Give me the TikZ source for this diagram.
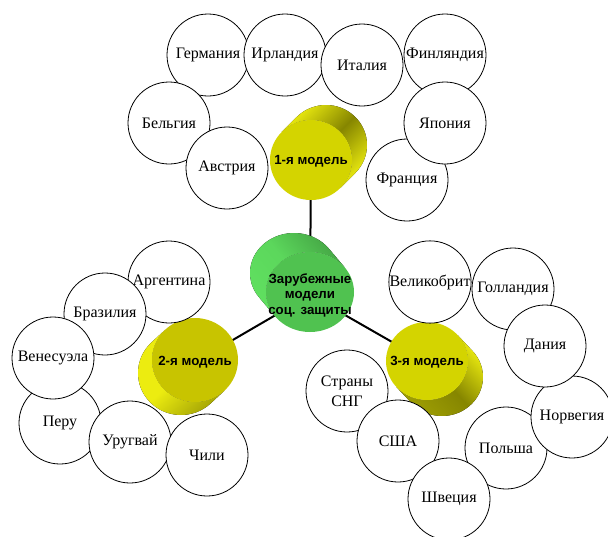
\documentclass[tikz,border=0pt]{standalone}
\usepackage{fontspec}
\setmainfont{Liberation Serif}
\setsansfont{Liberation Sans}
\usetikzlibrary{
    positioning,
    calc,
    backgrounds
}
\definecolor{drumface}{HTML}{D4D400}
\definecolor{drumfacedim}{HTML}{C8C400}
\definecolor{drumlight}{HTML}{ECEC10}
\definecolor{drumdark}{HTML}{868600}
\definecolor{hubface}{HTML}{50C250}
\definecolor{hublight}{HTML}{60E060}
\definecolor{hubdark}{HTML}{44A444}
\tikzset{
    % Country circle style
    country/.style={
        circle,
        draw=black,
        line width=0.8pt,
        fill=white,
        minimum size=82pt,
        inner sep=0pt,
        align=center,
        font=\fontsize{16}{20}\selectfont
    },
    % Model label style
    model text/.style={
        inner sep=0pt,
        align=center,
        font=\fontsize{13.3}{15.5}\selectfont\sffamily\bfseries
    },
    % Drum side shadings
    side one/.style={top color=drumlight, bottom color=drumlight, middle color=drumdark, shading angle=45},
    side hub/.style={top color=hublight, bottom color=hubdark, middle color=hublight!85!hubdark, shading angle=130},
    side two/.style={top color=drumdark!70!drumlight, bottom color=drumlight, middle color=drumlight, shading angle=223},
    side three/.style={top color=drumlight, bottom color=drumdark!75!drumlight, middle color=drumdark, shading angle=313},
    % Connector style
    link/.style={
        line width=2pt,
        color=black
    }
}
% drum: #1,#2 front centre, #3,#4 radii, #5,#6 back offset, #7 face, #8 side style
\newcommand{\drum}[8]{%
    \pgfmathsetmacro{\ta}{atan2(-(#4)*(#5), (#3)*(#6))}%
    \pgfmathsetmacro{\dd}{(#3)*cos(\ta+90)*(#5)+(#4)*sin(\ta+90)*(#6)}%
    \pgfmathsetmacro{\ta}{\dd<0 ? \ta+180 : \ta}%
    \fill[#8] ($(#1,#2)+({(#3)*cos(\ta)},{(#4)*sin(\ta)})$) -- ++(#5,#6)
        arc [start angle=\ta, delta angle=180, x radius=#3, y radius=#4]
        -- ($(#1,#2)+({(#3)*cos(\ta+180)},{(#4)*sin(\ta+180)})$)
        arc [start angle=\ta+180, delta angle=-180, x radius=#3, y radius=#4]
        -- cycle;
    \fill[#7] (#1,#2) ellipse [x radius=#3, y radius=#4];
}
\begin{document}
\begin{tikzpicture}[x=1pt, y=-1pt]
        \useasboundingbox (0,0) rectangle (608,536);

        % Drums
        \drum{311}{160}{41}{40}{15}{-15}{drumface}{side one}
        \drum{310}{292}{44}{40}{-16}{-19}{hubface}{side hub}
        \drum{195}{360}{43}{42}{-14}{13}{drumfacedim}{side two}
        \drum{427}{361}{41}{39}{15}{16}{drumface}{side three}

        % Models
        \node[model text] (m1) at (311,161) {1-я модель};
        \node[model text] (hub) at (310,295) {Зарубежные\\модели\\соц. защиты};
        \node[model text] (m2) at (195,362) {2-я модель};
        \node[model text] (m3) at (427,362) {3-я модель};

        % Links behind the drums
        \begin{scope}[on background layer]
            \draw[link] (hub.center) -- (m1.center);
            \draw[link] (hub.center) -- (m2.center);
            \draw[link] (hub.center) -- (m3.center);
        \end{scope}

        % 1-я модель
        \node[country] (germany) at (208,55) {Германия};
        \node[country] (ireland) at (285,55) {Ирландия};
        \node[country] (italy) at (362,65) {Италия};
        \node[country] (finland) at (445,55) {Финляндия};
        \node[country] (belgium) at (169,123) {Бельгия};
        \node[country] (austria) at (227,168) {Австрия};
        \node[country] (france) at (407,180) {Франция};
        \node[country] (japan) at (445,123) {Япония};

        % 2-я модель
        \node[country] (argentina) at (169,282) {Аргентина};
        \node[country] (brazil) at (105,314) {Бразилия};
        \node[country] (peru) at (60,423) {Перу};
        \node[country] (venezuela) at (53,358) {Венесуэла};
        \node[country] (uruguay) at (130,442) {Уругвай};
        \node[country] (chile) at (207,455) {Чили};

        % 3-я модель
        \node[country] (britain) at (430,282) {Великобрит};
        \node[country] (holland) at (513,289) {Голландия};
        \node[country] (poland) at (506,448) {Польша};
        \node[country] (norway) at (572,417) {Норвегия};
        \node[country] (denmark) at (545,346) {Дания};
        \node[country] (cis) at (347,391) {Страны\\СНГ};
        \node[country] (usa) at (398,441) {США};
        \node[country] (sweden) at (449,499) {Швеция};

    \end{tikzpicture}
\end{document}
